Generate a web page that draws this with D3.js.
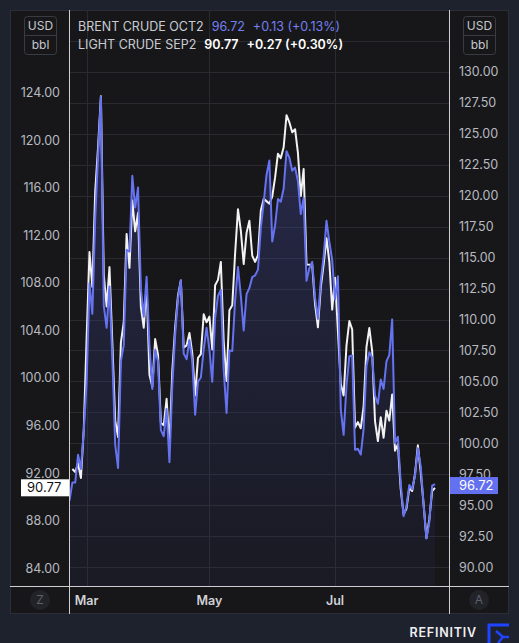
<!DOCTYPE html>
<html><head><meta charset="utf-8">
<script src="https://cdn.jsdelivr.net/npm/d3@7"></script>
<style>
html,body{margin:0;padding:0;background:#1e222d;overflow:hidden;}
svg{display:block;font-family:Inter,"Noto Sans",sans-serif;}
</style></head><body>
<svg id="c" width="519" height="643"></svg>
<script>
// ---- data ----
const startDate = "2022-02-21", endDate = "2022-08-19";
const closedDays = ["2022-04-15"];
// Brent (blue, right axis)
const brent = [
 95.39, 96.84, 96.84, 99.08, 97.93, 100.99,
 104.97, 112.93, 110.46, 118.11, 123.21, 127.98, 111.14, 109.33, 112.67, 106.90, 99.91, 98.02, 106.64, 107.93, 115.62, 115.48, 121.60, 119.03, 120.65, 112.48, 110.23, 113.45, 107.91,
 104.39, 107.53, 106.64, 101.07, 100.58, 102.78, 98.48, 104.64, 108.78, 111.70, 113.16, 107.25, 106.80, 108.33, 106.65, 102.32, 104.99, 105.32, 107.59, 109.34,
 107.58, 104.97, 110.14, 111.90, 112.39, 105.94, 102.46, 107.51, 107.45, 111.55, 114.24, 111.93, 109.11, 112.04, 112.55, 113.42, 113.56, 114.03, 117.40, 119.43, 121.67, 122.84,
 116.29, 117.61, 119.72, 119.51, 120.57, 123.58, 123.07, 122.01, 122.27, 121.17, 118.51, 119.81, 113.12, 114.13, 114.65, 111.74, 110.05, 113.12, 115.09, 117.98, 116.26, 114.81,
 111.63, 113.50, 102.77, 100.69, 104.65, 107.02, 107.10, 99.49, 99.57, 99.10, 101.16, 106.27, 107.35, 106.92, 103.86, 103.20, 105.15, 104.40, 106.62, 107.14, 110.01,
 100.03, 100.54, 96.78, 94.12, 94.92, 96.65, 96.31, 97.40, 99.60, 98.15, 95.10, 92.34, 93.65, 96.59, 96.72
];
// Light crude (white, left axis); null = no session
const wti = [
 null, 92.35, 92.10, 92.81, 91.59, 95.72,
 103.41, 110.60, 107.67, 115.68, 119.40, 123.70, 108.70, 106.02, 109.33, 103.01, 96.44, 95.04, 102.98, 104.70, 112.12, 109.27, 114.93, 112.34, 113.90, 105.96, 104.24, 107.82, 100.28,
 99.27, 103.28, 101.96, 96.23, 96.03, 98.26, 94.29, 100.60, 104.25, 106.95, 108.21, 102.56, 102.75, 103.79, 102.07, 98.54, 101.70, 102.02, 105.36, 104.69,
 105.17, 102.41, 107.81, 108.26, 109.77, 103.09, 99.76, 105.71, 106.13, 110.49, 114.20, 112.40, 109.59, 112.21, 113.23, 110.29, 109.77, 110.33, 114.09, 115.07, null, 114.67,
 115.26, 116.87, 118.87, 118.50, 119.41, 122.11, 121.51, 120.67, 120.93, 118.93, 115.31, 117.59, 109.56, null, 109.52, 106.19, 104.27, 107.62, 109.57, 111.76, 109.78, 105.76,
 108.43, null, 99.50, 98.53, 102.73, 104.79, 104.09, 95.84, 96.30, 95.78, 97.59, 102.60, 104.22, 102.26, 96.35, 94.70, 96.70, 94.98, 97.26, 96.42, 98.62,
 93.89, 94.42, 90.66, 88.54, 89.01, 90.76, 90.50, 91.93, 94.34, 92.09, 89.41, 86.53, 88.11, 90.50, 90.77
];
const monthLabels = ["Mar", "May", "Jul"];
const monthDates = ["2022-03-01", "2022-05-02", "2022-07-01"];
const leftTicks = [84, 88, 92, 96, 100, 104, 108, 112, 116, 120, 124];
const rightTicks = [90, 92.5, 95, 97.5, 100, 102.5, 105, 107.5, 110, 112.5, 115, 117.5, 120, 122.5, 125, 127.5, 130];
const rightGrid = [90, 92.5, 95, 97.5, 100, 102.5, 105, 107.5, 110, 112.5, 115, 117.5, 120, 122.5, 125, 127.5, 130, 132.5];
const legend = [
  {name: "BRENT CRUDE OCT2", last: "96.72", chg: "+0.13 (+0.13%)"},
  {name: "LIGHT CRUDE SEP2", last: "90.77", chg: "+0.27 (+0.30%)"}
];

// ---- layout ----
const fmt = d3.utcFormat("%Y-%m-%d");
const dates = d3.utcDays(new Date(startDate + "T00:00Z"), d3.utcDay.offset(new Date(endDate + "T00:00Z"), 1))
  .filter(d => d.getUTCDay() % 6 !== 0 && !closedDays.includes(fmt(d)));

const BLUE = "#6673f0", WHITE = "#f2f2f2", TXT = "#b8bac2";
const P = {x0: 10, y0: 10, x1: 509, y1: 614, pl: 69.5, pr: 449.5, pb: 586.5};

const svg = d3.select("#c");
const x = d3.scaleLinear().domain([0, dates.length - 1]).range([69.5, 435]);
const yL = d3.scaleLinear().domain([84, 124]).range([568.3, 92.7]);
const yR = d3.scaleLinear().domain([90, 130]).range([567.3, 71.7]);

const defs = svg.append("defs");
const grad = defs.append("linearGradient").attr("id", "g").attr("x1", 0).attr("x2", 0).attr("y1", 0).attr("y2", 1);
grad.append("stop").attr("offset", "0%").attr("stop-color", "#4a52b8").attr("stop-opacity", 0.35);
grad.append("stop").attr("offset", "100%").attr("stop-color", "#2a2e60").attr("stop-opacity", 0.15);
defs.append("clipPath").attr("id", "clip").append("rect")
  .attr("x", P.pl).attr("y", P.y0).attr("width", P.pr - P.pl).attr("height", P.pb - P.y0);

// panel
svg.append("rect").attr("x", P.x0 + 0.5).attr("y", P.y0 + 0.5).attr("width", P.x1 - P.x0 - 1).attr("height", P.y1 - P.y0 - 1)
  .attr("fill", "#171719").attr("stroke", "#2b2e38");

// grid
const grid = svg.append("g").attr("stroke", "#2a2b2f").attr("stroke-width", 1);
grid.selectAll("line.h").data(rightGrid).join("line").attr("class", "h")
  .attr("x1", P.pl).attr("x2", P.pr).attr("y1", d => Math.round(yR(d)) + 0.5).attr("y2", d => Math.round(yR(d)) + 0.5);
const tickIdx = monthDates.map(s => dates.findIndex(d => fmt(d) === s));
grid.selectAll("line.v").data(tickIdx).join("line").attr("class", "v")
  .attr("y1", P.y0).attr("y2", P.pb).attr("x1", d => Math.round(x(d)) + 0.5).attr("x2", d => Math.round(x(d)) + 0.5);

// series
const plot = svg.append("g").attr("clip-path", "url(#clip)");
const bData = brent.map((v, i) => [i, v]);
const wData = wti.map((v, i) => [i, v]).filter(d => d[1] != null);
plot.append("path").datum(bData).attr("fill", "url(#g)")
  .attr("d", d3.area().x(d => x(d[0])).y0(P.pb).y1(d => yR(d[1])));
plot.append("path").datum(wData).attr("fill", "none").attr("stroke", WHITE).attr("stroke-width", 2).attr("stroke-linejoin", "round")
  .attr("d", d3.line().x(d => x(d[0])).y(d => yL(d[1])));
plot.append("path").datum(bData).attr("fill", "none").attr("stroke", BLUE).attr("stroke-width", 2).attr("stroke-linejoin", "round")
  .attr("d", d3.line().x(d => x(d[0])).y(d => yR(d[1])));

// separators
const sep = svg.append("g").attr("stroke", "#cfcfd2").attr("stroke-width", 1);
sep.append("line").attr("x1", P.pl).attr("x2", P.pl).attr("y1", P.y0).attr("y2", P.y1);
sep.append("line").attr("x1", P.pr).attr("x2", P.pr).attr("y1", P.y0).attr("y2", P.y1);
sep.append("line").attr("x1", P.x0).attr("x2", P.x1).attr("y1", P.pb).attr("y2", P.pb);

// left axis labels
svg.append("g").selectAll("text").data(leftTicks).join("text")
  .attr("x", 60).attr("y", d => yL(d)).attr("dy", "0.35em").attr("text-anchor", "end")
  .attr("fill", TXT).attr("font-size", 12.5).text(d => d.toFixed(2));
// right axis labels
svg.append("g").selectAll("text").data(rightTicks).join("text")
  .attr("x", 459).attr("y", d => yR(d)).attr("dy", "0.35em").attr("text-anchor", "start")
  .attr("fill", TXT).attr("font-size", 12.5).text(d => d.toFixed(2));

// unit boxes
[24, 463].forEach(bx => {
  const g = svg.append("g");
  g.append("rect").attr("x", bx + 0.5).attr("y", 16.5).attr("width", 32).attr("height", 38).attr("rx", 3)
    .attr("fill", "#171719").attr("stroke", "#3a3c44");
  g.append("line").attr("x1", bx).attr("x2", bx + 33).attr("y1", 35.5).attr("y2", 35.5).attr("stroke", "#3a3c44");
  g.append("text").attr("x", bx + 16.5).attr("y", 26).attr("dy", "0.35em").attr("text-anchor", "middle")
    .attr("fill", "#c6c8cf").attr("font-size", 12).text("USD");
  g.append("text").attr("x", bx + 16.5).attr("y", 45).attr("dy", "0.35em").attr("text-anchor", "middle")
    .attr("fill", "#c6c8cf").attr("font-size", 12).text("bbl");
});

// legend
const lg = svg.append("g").attr("font-size", 12.5);
legend.forEach((l, i) => {
  const t = lg.append("text").attr("x", 78).attr("y", 27 + i * 18).attr("dy", "0.35em").attr("fill", "#c9cbd2");
  t.append("tspan").text(l.name);
  const vc = i === 0 ? "#7580f2" : "#ffffff";
  t.append("tspan").attr("dx", 8).attr("fill", vc).attr("font-weight", i === 0 ? 400 : 600).text(l.last);
  t.append("tspan").attr("dx", 8).attr("fill", vc).attr("font-weight", i === 0 ? 400 : 600).text(l.chg);
});

// last value labels (the blue one covers part of the 97.50 tick, as in the original)
const wLast = wti[wti.length - 1], bLast = brent[brent.length - 1];
svg.append("rect").attr("x", 21).attr("y", yL(wLast) - 8.5).attr("width", 48).attr("height", 17).attr("fill", "#ffffff");
svg.append("text").attr("x", 27).attr("y", yL(wLast)).attr("dy", "0.36em").attr("fill", "#111").attr("font-size", 13).text(wLast.toFixed(2));
svg.append("rect").attr("x", 450).attr("y", yR(bLast) - 7).attr("width", 48).attr("height", 17).attr("fill", "#6370f0");
svg.append("text").attr("x", 459).attr("y", yR(bLast) + 1.5).attr("dy", "0.36em").attr("fill", "#ffffff").attr("font-size", 13).text(bLast.toFixed(2));

// bottom axis
svg.append("g").selectAll("text").data(tickIdx).join("text")
  .attr("x", d => x(d)).attr("y", 600.5).attr("dy", "0.35em").attr("text-anchor", "middle")
  .attr("fill", "#d0d2d8").attr("font-size", 12.5).attr("font-weight", 600).text((d, i) => monthLabels[i]);

[[40, "Z"], [479, "A"]].forEach(([cx, s]) => {
  svg.append("circle").attr("cx", cx).attr("cy", 600).attr("r", 10).attr("fill", "#222329");
  svg.append("text").attr("x", cx).attr("y", 600).attr("dy", "0.35em").attr("text-anchor", "middle")
    .attr("fill", "#5c5f6a").attr("font-size", 12).text(s);
});

// brand
svg.append("text").attr("x", 477).attr("y", 633).attr("dy", "0.35em").attr("text-anchor", "end")
  .attr("fill", "#f0f0f2").attr("font-size", 12.5).attr("font-weight", 600).attr("letter-spacing", 0.8).text("REFINITIV");
svg.append("path").attr("d", "M489,643 V625 H509").attr("fill", "none").attr("stroke", "#1e44ff").attr("stroke-width", 3);
svg.append("path").attr("d", "M496,631 L503,637 L498,643 M503,637 H509").attr("fill", "none").attr("stroke", "#1e44ff").attr("stroke-width", 2.5);
</script>
</body></html>
